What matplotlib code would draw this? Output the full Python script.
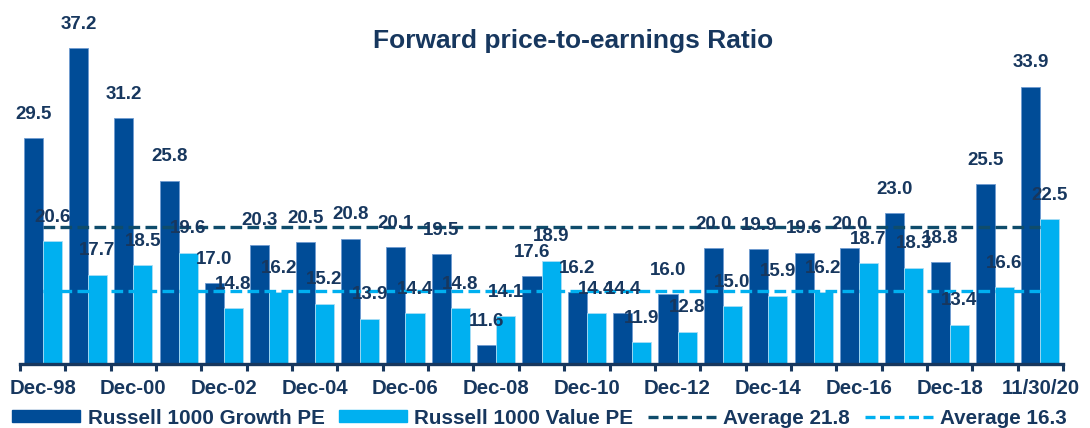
import matplotlib
matplotlib.use("Agg")
import matplotlib.pyplot as plt
from matplotlib.lines import Line2D
from matplotlib.patches import Patch
import numpy as np

categories = ["Dec-98", "Dec-99", "Dec-00", "Dec-01", "Dec-02", "Dec-03", "Dec-04",
              "Dec-05", "Dec-06", "Dec-07", "Dec-08", "Dec-09", "Dec-10", "Dec-11",
              "Dec-12", "Dec-13", "Dec-14", "Dec-15", "Dec-16", "Dec-17", "Dec-18",
              "Dec-19", "11/30/20"]
growth_pe = [29.5, 37.2, 31.2, 25.8, 17.0, 20.3, 20.5, 20.8, 20.1, 19.5, 11.6, 17.6,
             16.2, 14.4, 16.0, 20.0, 19.9, 19.6, 20.0, 23.0, 18.8, 25.5, 33.9]
value_pe = [20.6, 17.7, 18.5, 19.6, 14.8, 16.2, 15.2, 13.9, 14.4, 14.8, 14.1, 18.9,
            14.4, 11.9, 12.8, 15.0, 15.9, 16.2, 18.7, 18.3, 13.4, 16.6, 22.5]
growth_avg = 21.8
value_avg = 16.3
series_names = ["Russell 1000 Growth PE", "Russell 1000 Value PE"]
title = "Forward price-to-earnings Ratio"

plt.rcParams['font.family'] = ['Liberation Sans', 'DejaVu Sans']
plt.rcParams['font.weight'] = 'bold'

C_GROWTH = "#004C97"
C_VALUE = "#00B0F0"
C_TEXT = "#17375E"
C_AVG1 = "#0F4C6B"

fig = plt.figure(figsize=(10.9, 4.28), dpi=100)
ax = fig.add_axes([20/1090, 1 - 364/428, (1063 - 20)/1090, (364 - 16)/428])

x = np.arange(len(categories))
w = 0.42
b1 = ax.bar(x - w/2, growth_pe, w, bottom=0, color=C_GROWTH, edgecolor="#6f9bd1", linewidth=0.6)
b2 = ax.bar(x + w/2, value_pe, w, bottom=0, color=C_VALUE, edgecolor="#a9def5", linewidth=0.6)

ax.plot([x[0], x[-1]], [growth_avg, growth_avg], color=C_AVG1, lw=2.4, ls=(0, (3.5, 1.6)))
ax.plot([x[0], x[-1]], [value_avg, value_avg], color=C_VALUE, lw=2.4, ls=(0, (3.5, 1.6)))

for bars, vals in ((b1, growth_pe), (b2, value_pe)):
    for r, v in zip(bars, vals):
        ax.annotate(f"{v:.1f}", (r.get_x() + r.get_width()/2, v), xytext=(0, 11),
                    textcoords="offset points", ha="center", va="bottom",
                    fontsize=13.5, fontweight="bold", color=C_TEXT)

ax.set_ylim(10, 40)
ax.set_xlim(-0.5, len(categories) - 0.5)
ax.set_yticks([])
for s in ("left", "right", "top"):
    ax.spines[s].set_visible(False)
ax.spines["bottom"].set_color(C_TEXT)
ax.spines["bottom"].set_linewidth(2.4)

ax.set_xticks(x[::2])
ax.set_xticklabels(categories[::2], fontsize=14.7, fontweight="bold", color=C_TEXT)
ax.tick_params(axis="x", which="major", length=0, pad=11)
ax.set_xticks(np.arange(-0.5, len(categories)), minor=True)
ax.tick_params(axis="x", which="minor", length=5, width=2.2, color=C_TEXT)

fig.text(573/1090, 1 - 41/428, title, ha="center", va="center", fontsize=19,
         fontweight="bold", color=C_TEXT)

handles = [Patch(color=C_GROWTH), Patch(color=C_VALUE),
           Line2D([], [], color=C_AVG1, lw=2.4, ls=(0, (3.0, 1.35))),
           Line2D([], [], color=C_VALUE, lw=2.4, ls=(0, (3.0, 1.35)))]
labels = series_names + [f"Average {growth_avg}", f"Average {value_avg}"]
leg = fig.legend(handles, labels, loc="center left", bbox_to_anchor=(12/1090, 1 - 418/428),
                 ncol=4, frameon=False, fontsize=14.9, handlelength=3.3, handleheight=0.5,
                 handletextpad=0.35, columnspacing=0.7, borderaxespad=0, borderpad=0)
for t in leg.get_texts():
    t.set_color(C_TEXT)
    t.set_fontweight("bold")

fig.savefig("out.png", dpi=100)
